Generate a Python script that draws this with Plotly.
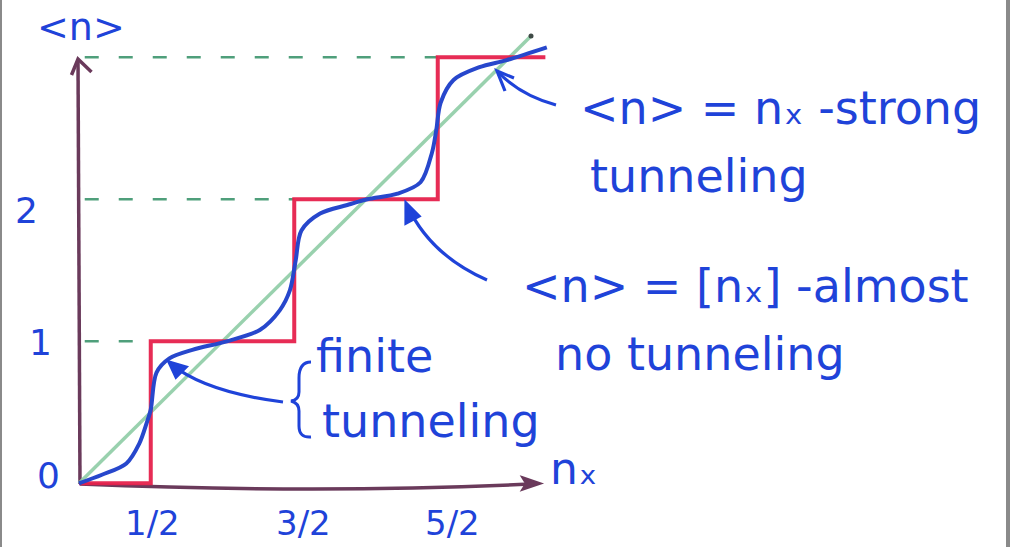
import plotly.graph_objects as go

W, H = 1014, 547

# ---- data -------------------------------------------------------------
# classical staircase  <n> = [n_x]
step_nx = [0, 0.5, 1.5, 2.5, 3.25]
step_n = [0, 1, 2, 3, 3]

# strong tunneling  <n> = n_x
diag_nx = [0, 3.15]
diag_n = [0, 3.15]

# finite tunneling: smoothed staircase
curve_nx = [0, 0.16, 0.33, 0.42, 0.47, 0.50, 0.54, 0.63, 0.79, 1.03, 1.26, 1.40,
            1.47, 1.51, 1.55, 1.68, 1.87, 2.01, 2.22, 2.38, 2.46, 2.49, 2.52,
            2.61, 2.79, 2.98, 3.26]
curve_n = [0, 0.06, 0.14, 0.28, 0.42, 0.52, 0.78, 0.88, 0.94, 1.00, 1.08, 1.22,
           1.36, 1.57, 1.78, 1.90, 1.96, 2.00, 2.04, 2.12, 2.33, 2.49, 2.68,
           2.84, 2.93, 2.98, 3.07]

# dashed guide levels and where they meet the staircase
level_n = [1, 2, 3]
level_end_nx = [0.5, 1.5, 2.5]

# tick labels
y_tick_vals = [0, 1, 2]
y_tick_text = ["0", "1", "2"]
x_tick_vals = [0.5, 1.5, 2.5]
x_tick_text = ["1/2", "3/2", "5/2"]

# ---- styling ----------------------------------------------------------
BLUE_TXT = "#1f43d9"
BLUE_CURVE = "#2747cc"
RED = "#e6214c"
GREEN = "#8fcda6"
GREEN_DASH = "#4f9f7b"
AXIS = "#6a3a5b"
FONT = "DejaVu Sans"

X0_PX, X_UNIT = 79.0, 143.5
Y0_PX, Y_UNIT = 483.3, 142.0

SEG = {"M": 2, "L": 2, "Q": 4}


def px(x):
    return x / W


def py(y):
    return 1 - y / H


def path(cmds, close=False):
    """cmds: list of (letter, [x, y, ...]) in pixel units -> paper-space SVG path."""
    out = []
    for letter, coords in cmds:
        n = SEG[letter]
        for i in range(0, len(coords), n):
            chunk = coords[i:i + n]
            pts = [f"{px(chunk[j]):.5f},{py(chunk[j + 1]):.5f}" for j in range(0, n, 2)]
            out.append(letter + " " + " ".join(pts))
    s = " ".join(out)
    return s + " Z" if close else s


fig = go.Figure()

# dashed guide lines
for lv, end in zip(level_n, level_end_nx):
    fig.add_trace(go.Scatter(
        x=[0.04, end], y=[lv, lv], mode="lines",
        line=dict(color=GREEN_DASH, width=2.5, dash="14px,20px"),
        hoverinfo="skip"))

# diagonal
fig.add_trace(go.Scatter(
    x=diag_nx, y=diag_n, mode="lines",
    line=dict(color=GREEN, width=3.5), opacity=0.9, hoverinfo="skip"))
fig.add_trace(go.Scatter(
    x=[diag_nx[-1]], y=[diag_n[-1]], mode="markers",
    marker=dict(color="#3f4a46", size=5), hoverinfo="skip"))

# staircase
fig.add_trace(go.Scatter(
    x=step_nx, y=step_n, mode="lines", line_shape="hv",
    line=dict(color=RED, width=4), opacity=0.95, hoverinfo="skip"))

# smooth curve
fig.add_trace(go.Scatter(
    x=curve_nx, y=curve_n, mode="lines", line_shape="spline",
    line=dict(color=BLUE_CURVE, width=4, smoothing=0.9), hoverinfo="skip"))

shapes = []
# y axis with open arrow
shapes.append(dict(type="path", xref="paper", yref="paper", layer="below",
                   path=path([("M", [80, 484]), ("L", [78, 60])]),
                   line=dict(color=AXIS, width=3.5)))
shapes.append(dict(type="path", xref="paper", yref="paper",
                   path=path([("M", [71.5, 75]), ("L", [78, 59, 91.5, 72])]),
                   line=dict(color=AXIS, width=3.5)))
# x axis with filled arrow
shapes.append(dict(type="path", xref="paper", yref="paper", layer="below",
                   path=path([("M", [80, 484]), ("Q", [320, 494, 530, 484])]),
                   line=dict(color=AXIS, width=3.5)))
shapes.append(dict(type="path", xref="paper", yref="paper",
                   path=path([("M", [522, 477]), ("L", [541, 483.5, 522, 490, 526, 483.5])], close=True),
                   line=dict(color=AXIS, width=2), fillcolor=AXIS))

# pointer arrows
arrow_line = dict(color=BLUE_TXT, width=3.2)
# strong tunneling
shapes.append(dict(type="path", xref="paper", yref="paper",
                   path=path([("M", [556, 105]), ("Q", [520, 95, 498, 72])]),
                   line=arrow_line))
shapes.append(dict(type="path", xref="paper", yref="paper",
                   path=path([("M", [514, 78]), ("L", [497, 71, 505, 91])]),
                   line=arrow_line))
# almost no tunneling
shapes.append(dict(type="path", xref="paper", yref="paper",
                   path=path([("M", [487, 280]), ("Q", [430, 255, 407, 205])]),
                   line=arrow_line))
shapes.append(dict(type="path", xref="paper", yref="paper",
                   path=path([("M", [406, 223]), ("L", [406, 203, 419, 216])], close=True),
                   line=arrow_line, fillcolor=BLUE_TXT))
# finite tunneling
shapes.append(dict(type="path", xref="paper", yref="paper",
                   path=path([("M", [283, 402]), ("Q", [205, 392, 171, 364])]),
                   line=arrow_line))
shapes.append(dict(type="path", xref="paper", yref="paper",
                   path=path([("M", [176, 377]), ("L", [169, 362, 186, 367])], close=True),
                   line=arrow_line, fillcolor=BLUE_TXT))
# brace
shapes.append(dict(type="path", xref="paper", yref="paper",
                   path=path([("M", [311, 362]), ("Q", [299, 362, 299, 378]),
                              ("L", [299, 392]), ("Q", [299, 400, 291, 401]),
                              ("Q", [299, 403, 299, 411]), ("L", [299, 426]),
                              ("Q", [299, 438, 311, 437])]),
                   line=dict(color=BLUE_TXT, width=3)))

# page edges
shapes.append(dict(type="rect", xref="paper", yref="paper", layer="above",
                   x0=0, x1=px(2), y0=0, y1=1, line_width=0, fillcolor="#8a8a8a"))
shapes.append(dict(type="rect", xref="paper", yref="paper", layer="above",
                   x0=px(1006), x1=px(1010), y0=0, y1=1, line_width=0, fillcolor="#8a8a8a"))

annotations = []


def label(text, x, y, size, xanchor="left"):
    annotations.append(dict(text=text, x=px(x), y=py(y), xref="paper", yref="paper",
                            xanchor=xanchor, yanchor="middle", showarrow=False,
                            font=dict(family=FONT, size=size, color=BLUE_TXT)))


label("&lt;n&gt;", 81, 27, 38, xanchor="center")
label("nₓ", 548, 468, 44)
label("&lt;n&gt; = nₓ -strong", 578, 108, 46)
label("tunneling", 588, 176, 46)
label("&lt;n&gt; = [nₓ] -almost", 520, 286, 46)
label("no tunneling", 553, 354, 46)
label("finite", 314, 356, 46)
label("tunneling", 320, 421, 46)

# tick labels along the axes
x_tick_shift = [2, 9, 15]
for v, t, s in zip(x_tick_vals, x_tick_text, x_tick_shift):
    annotations.append(dict(text=t, x=v, y=py(523), xref="x", yref="paper",
                            xshift=s, xanchor="center", yanchor="middle", showarrow=False,
                            font=dict(family=FONT, size=34, color=BLUE_TXT)))
y_tick_x = [48, 40, 26]
y_tick_shift = [8, -1, -11]
for v, t, xp, s in zip(y_tick_vals, y_tick_text, y_tick_x, y_tick_shift):
    annotations.append(dict(text=t, x=px(xp), y=v, xref="paper", yref="y",
                            yshift=s, xanchor="center", yanchor="middle", showarrow=False,
                            font=dict(family=FONT, size=36, color=BLUE_TXT)))

fig.update_layout(
    width=W, height=H,
    margin=dict(l=0, r=0, t=0, b=0),
    paper_bgcolor="white", plot_bgcolor="white",
    showlegend=False, hovermode=False,
    xaxis=dict(range=[-X0_PX / X_UNIT, (W - X0_PX) / X_UNIT], visible=False, fixedrange=True),
    yaxis=dict(range=[(Y0_PX - H) / Y_UNIT, Y0_PX / Y_UNIT], visible=False, fixedrange=True),
    shapes=shapes, annotations=annotations,
)

fig.write_html("out.html", config={"displayModeBar": False})
